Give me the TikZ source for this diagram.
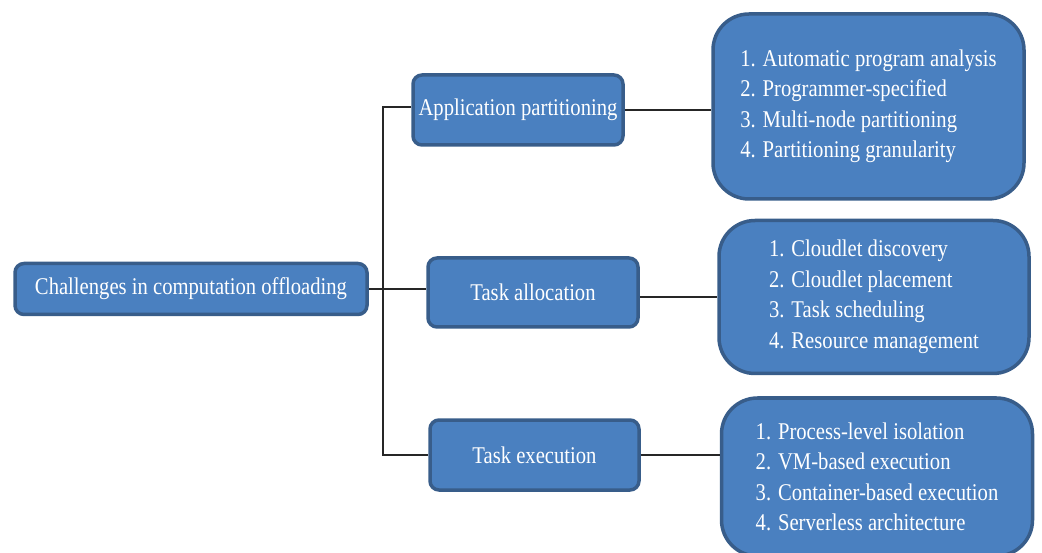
\documentclass[tikz,border=0pt]{standalone}
\usepackage{fontspec}
\setmainfont{Liberation Serif}[FakeStretch=0.86]
\begin{document}
\begin{tikzpicture}[x=1pt,y=-1pt,
  box/.style={draw=boxline,fill=boxfill,line width=3.5pt,text=white,
    font=\fontsize{24}{30.5}\selectfont,inner sep=0pt},
  small/.style={box,rounded corners=9pt},
  big/.style={box,rounded corners=36pt,align=left},
  conn/.style={draw=black!85,line width=2pt}]
\definecolor{boxfill}{HTML}{4A80C0}
\definecolor{boxline}{HTML}{385D8A}
\useasboundingbox (0,0) rectangle (1042,553);
\node[small,minimum width=352pt,minimum height=51pt] (root) at (191,289) {Challenges in computation offloading};
\node[small,minimum width=210pt,minimum height=70pt] (app) at (518,110) {Application partitioning};
\node[small,minimum width=210pt,minimum height=69pt] (alloc) at (533,292.5) {Task allocation};
\node[small,minimum width=209pt,minimum height=70pt] (exec) at (534.5,455) {Task execution};
\node[big,minimum width=311pt,minimum height=185pt] (l1) at (868.5,106.5) {1. Automatic program analysis\\2. Programmer-specified\\3. Multi-node partitioning\\4. Partitioning granularity};
\node[big,minimum width=310pt,minimum height=153pt] (l2) at (874,297) {1. Cloudlet discovery\\2. Cloudlet placement\\3. Task scheduling\\4. Resource management};
\node[big,minimum width=311pt,minimum height=158pt] (l3) at (877,477) {1. Process-level isolation\\2. VM-based execution\\3. Container-based execution\\4. Serverless architecture};
\coordinate (stop) at (383,107);
\coordinate (sbot) at (383,455);
\draw[conn] (root.east) -- (root.east -| alloc.west);
\draw[conn] (stop -| app.west) -- (stop) -- (sbot) -- (sbot -| exec.west);
\draw[conn] (app.east) -- (app.east -| l1.west);
\draw[conn] (l2.west -| alloc.east) -- (l2.west);
\draw[conn] (exec.east) -- (exec.east -| l3.west);
\end{tikzpicture}
\end{document}
